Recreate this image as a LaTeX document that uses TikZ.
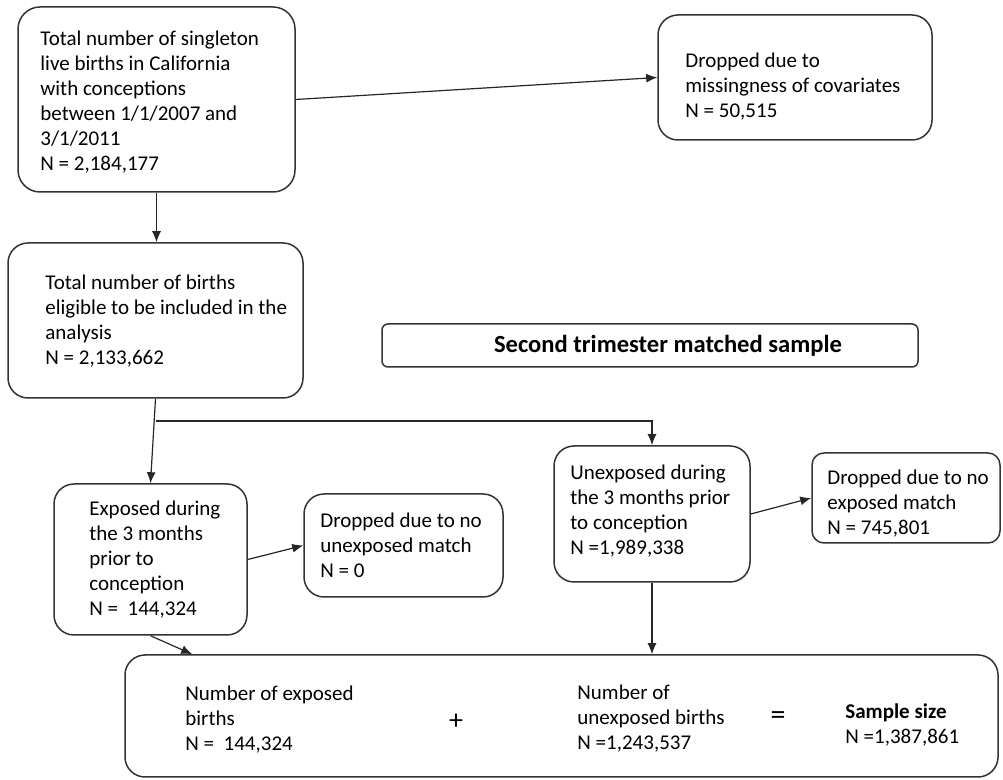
\documentclass[tikz,border=0pt]{standalone}
\usepackage{fontspec}
\setmainfont{Carlito}
\usetikzlibrary{arrows.meta}

\begin{document}
\begin{tikzpicture}[x=0.5pt,y=-0.5pt,
  box/.style={draw=black!80,line width=0.75pt,rounded corners=10pt,inner sep=0pt},
  txt/.style={anchor=north west,align=left,inner sep=0pt,font=\fontsize{10.5}{12.5}\selectfont},
  arr/.style={draw=black!85,line width=0.6pt,-{Latex[length=5.5pt,width=4.5pt]}}]
   \useasboundingbox (0,0) rectangle (1003,780);
   % boxes
   \node[box,minimum width=138.5pt,minimum height=92.5pt,rounded corners=11pt] (births) at (156.5,99.5) {};
   \node[box,minimum width=137pt,minimum height=62.5pt] (missing) at (795,77.5) {};
   \node[box,minimum width=147.5pt,minimum height=77.5pt] (eligible) at (155.5,320.5) {};
   \node[box,minimum width=268pt,minimum height=21.5pt,rounded corners=3pt,
         font=\fontsize{12.3}{14}\selectfont\bfseries] (title) at (650,345.5) {\hspace*{18pt}Second trimester matched sample};
   \node[box,minimum width=96.5pt,minimum height=75.5pt] (exposed) at (150.5,559.5) {};
   \node[box,minimum width=99.5pt,minimum height=51.5pt] (nounexp) at (403.5,545.5) {};
   \node[box,minimum width=98pt,minimum height=68pt] (unexposed) at (652,514) {};
   \node[box,minimum width=94pt,minimum height=45pt,rounded corners=6pt] (noexp) at (906,498) {};
   \node[box,minimum width=436.5pt,minimum height=61pt] (sample) at (561.5,716) {};
   % texts
   \node[txt] (birthstxt) at (40,31) {Total number of singleton\\live births in California\\with conceptions\\between 1/1/2007 and\\3/1/2011\\N = 2,184,177};
   \node[txt] (missingtxt) at (685,53) {Dropped due to\\missingness of covariates\\N = 50,515};
   \node[txt] (eligibletxt) at (45,275) {Total number of births\\eligible to be included in the\\analysis\\N = 2,133,662};
   \node[txt] (exposedtxt) at (89,501) {Exposed during\\the 3 months\\prior to\\conception\\N =~ 144,324};
   \node[txt] (nounexptxt) at (320,513) {Dropped due to no\\unexposed match\\N = 0};
   \node[txt] (unexposedtxt) at (570,465) {Unexposed during\\the 3 months prior\\to conception\\N =1,989,338};
   \node[txt] (noexptxt) at (827,470) {Dropped due to no\\exposed match\\N = 745,801};
   \node[txt] (nexp) at (185,686) {Number of exposed\\births\\N =~ 144,324};
   \node[txt] (nunexp) at (577,685) {Number of\\unexposed births\\N =1,243,537};
   \node[txt] (nsample) at (845,703) {\textbf{Sample size}\\N =1,387,861};
   \node[font=\fontsize{14}{14}\selectfont] (plus) at (456,722) {+};
   \node[font=\fontsize{15}{15}\selectfont] (equals) at (778,718) {=};
   % connectors
   \coordinate (split) at (155.5,421);
   \draw[arr] (births.east) -- (missing.west);
   \draw[arr] (births.south) -- (eligible.north -| births.south);
   \draw[arr] (eligible.south) -- (exposed.north);
   \draw[arr] (split) -| (unexposed.north);
   \draw[arr] (exposed.east) -- (nounexp.west);
   \draw[arr] (unexposed.east) -- (noexp.west);
   \draw[arr] (exposed.south) -- ([xshift=34pt]sample.north west);
   \draw[arr] (unexposed.south) -- (unexposed.south |- sample.north);
\end{tikzpicture}
\end{document}
